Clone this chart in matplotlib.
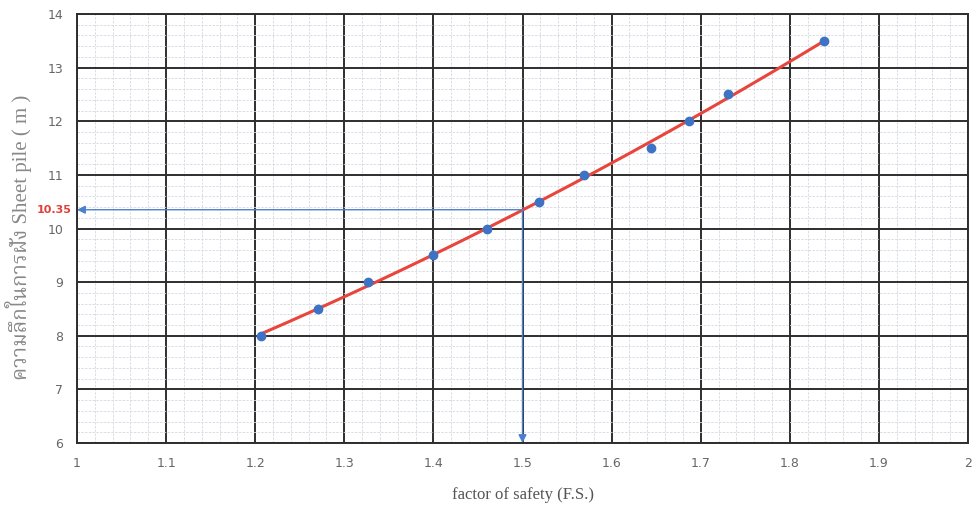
import numpy as np
import matplotlib
matplotlib.use("Agg")
import matplotlib.pyplot as plt
from matplotlib.ticker import MultipleLocator

fs = [1.2065, 1.2705, 1.3266, 1.3996, 1.460, 1.5185, 1.569, 1.644, 1.687, 1.731, 1.838]
depth = [8.0, 8.5, 9.0, 9.5, 10.0, 10.5, 11.0, 11.5, 12.0, 12.5, 13.5]
design_fs = 1.5
design_depth = 10.35
xticks = [1, 1.1, 1.2, 1.3, 1.4, 1.5, 1.6, 1.7, 1.8, 1.9, 2]
xticklabels = ["1", "1.1", "1.2", "1.3", "1.4", "1.5", "1.6", "1.7", "1.8", "1.9", "2"]
yticks = [6, 7, 8, 9, 10, 11, 12, 13, 14]

fig = plt.figure(figsize=(9.76, 5.13), dpi=100)
ax = fig.add_axes([77/976, 1-443/513, (968-77)/976, (443-14)/513])

ax.set_xlim(1, 2)
ax.set_ylim(6, 14)
ax.set_xticks(xticks)
ax.set_xticklabels(xticklabels)
ax.set_yticks(yticks)
ax.xaxis.set_minor_locator(MultipleLocator(0.02))
ax.yaxis.set_minor_locator(MultipleLocator(0.2))
ax.grid(which="major", color="#2e2e2e", lw=1.4)
ax.grid(which="minor", color="#d5d9e0", lw=0.6, ls=(0, (3, 1.5)))
ax.set_axisbelow(True)
for s in ax.spines.values():
    s.set_color("#2e2e2e")
    s.set_linewidth(1.4)
ax.tick_params(which="both", length=0, colors="#666666", labelsize=9, pad=10)

coef = np.polyfit(fs, depth, 2)
xx = np.linspace(min(fs), max(fs), 200)
ax.plot(xx, np.polyval(coef, xx), color="#e8453c", lw=2.2, zorder=3)
ax.plot(fs, depth, "o", color="#3d72c4", ms=6, zorder=4)

arrow_color = "#4a80cc"
ax.annotate("", xy=(1.0, design_depth), xytext=(design_fs, design_depth),
            arrowprops=dict(arrowstyle="-|>", color=arrow_color, lw=1.0, mutation_scale=12,
                            shrinkA=0, shrinkB=0), zorder=5)
ax.annotate("", xy=(design_fs, 6.0), xytext=(design_fs, design_depth),
            arrowprops=dict(arrowstyle="-|>", color=arrow_color, lw=1.0, mutation_scale=12,
                            shrinkA=0, shrinkB=0), zorder=5)
ax.text(-0.006, design_depth, "10.35", transform=ax.get_yaxis_transform(),
        ha="right", va="center", color="#e0403a", fontsize=8, fontweight="bold")

ax.set_xlabel("factor of safety (F.S.)", family=["Liberation Serif", "FreeSerif"],
              fontsize=12, color="#555555", labelpad=12)
ax.set_ylabel("ความลึกในการฝัง Sheet pile ( m )",
              family=["Liberation Serif", "Noto Serif Thai", "FreeSerif", "DejaVu Sans"],
              fontsize=15, color="#888888")
ax.yaxis.set_label_coords(-0.05, 0.48)

fig.savefig("out.png", dpi=100, facecolor="white")
